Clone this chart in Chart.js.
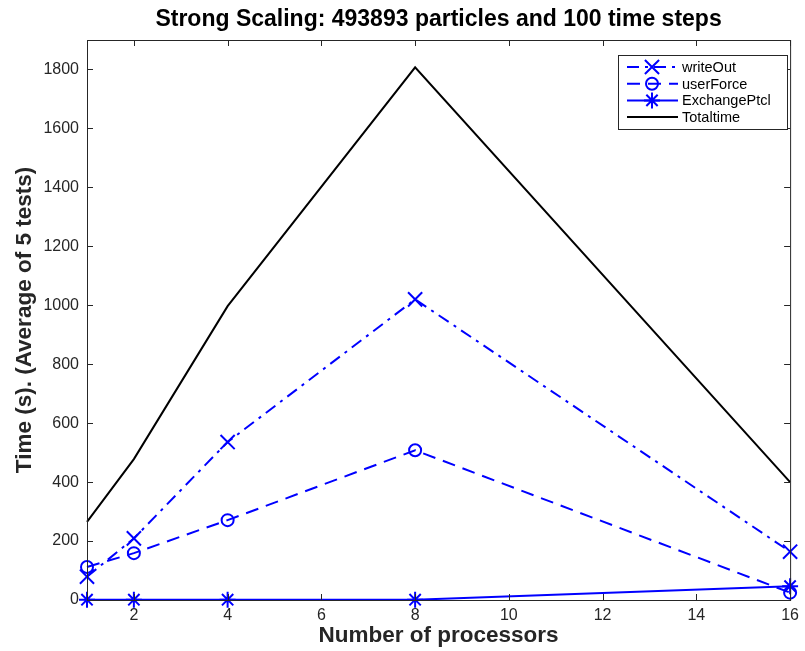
<!DOCTYPE html>
<html>
<head>
<meta charset="utf-8">
<script src="https://cdn.jsdelivr.net/npm/chart.js@4.4.1/dist/chart.umd.min.js"></script>
<style>
  body { margin: 0; background: #fff; }
  #wrap { width: 805px; height: 651px; }
</style>
</head>
<body>
<div id="wrap"><canvas id="scalingChart" width="805" height="651"></canvas></div>
<script>
// values
var procs = [1, 2, 4, 8, 16];
var writeOut = [79, 209, 536, 1020, 164];
var userForce = [112, 159, 271, 508, 25];
var exchangePtcl = [1, 1, 1, 1, 47];
var totalTime = [265, 478, 997, 1807, 400];

var xTicks = [2, 4, 6, 8, 10, 12, 14, 16];
var yTicks = [0, 200, 400, 600, 800, 1000, 1200, 1400, 1600, 1800];

var titleText = 'Strong Scaling: 493893 particles and 100 time steps';
var axisColor = '#262626';
var fontName = '"Liberation Sans", Arial, sans-serif';

function toPoints(ys) {
    return procs.map(function (p, i) { return { x: p, y: ys[i] }; });
}

// MATLAB style box, inward ticks, title and legend
var matlabBox = {
    id: 'matlabBox',
    afterDraw: function (chart) {
        var ctx = chart.ctx;
        var a = chart.chartArea;
        var xs = chart.scales.x, ys = chart.scales.y;
        var tl = 6;
        ctx.save();
        ctx.strokeStyle = axisColor;
        ctx.lineWidth = 1;
        ctx.strokeRect(a.left + 0.5, a.top + 0.5, a.right - a.left, a.bottom - a.top);
        ctx.beginPath();
        xTicks.forEach(function (v) {
            var px = Math.round(xs.getPixelForValue(v)) + 0.5;
            ctx.moveTo(px, a.bottom); ctx.lineTo(px, a.bottom - tl);
            ctx.moveTo(px, a.top); ctx.lineTo(px, a.top + tl);
        });
        yTicks.forEach(function (v) {
            var py = Math.round(ys.getPixelForValue(v)) + 0.5;
            ctx.moveTo(a.left, py); ctx.lineTo(a.left + tl, py);
            ctx.moveTo(a.right, py); ctx.lineTo(a.right - tl, py);
        });
        ctx.stroke();

        // title
        ctx.fillStyle = '#000';
        ctx.font = 'bold 23px ' + fontName;
        ctx.textAlign = 'center';
        ctx.textBaseline = 'middle';
        ctx.fillText(titleText, (a.left + a.right) / 2, 20);

        // legend
        var lx = 618, ly = 55, lw = 169, lh = 74;
        ctx.fillStyle = '#fff';
        ctx.fillRect(lx, ly, lw, lh);
        ctx.strokeStyle = axisColor;
        ctx.lineWidth = 1;
        ctx.strokeRect(lx + 0.5, ly + 0.5, lw, lh);
        ctx.font = '14.5px ' + fontName;
        ctx.textAlign = 'left';
        chart.data.datasets.forEach(function (ds, i) {
            var y = ly + 12 + i * 16.7;
            ctx.strokeStyle = ds.borderColor;
            ctx.lineWidth = ds.borderWidth;
            ctx.setLineDash(ds.borderDash || []);
            ctx.beginPath();
            ctx.moveTo(lx + 9, y); ctx.lineTo(lx + 60, y);
            ctx.stroke();
            ctx.setLineDash([]);
            if (ds.pointStyle && ds.pointRadius > 0) {
                ctx.fillStyle = 'rgba(0,0,0,0)';
                ctx.lineWidth = ds.pointBorderWidth;
                Chart.helpers.drawPoint(ctx, {
                    pointStyle: ds.pointStyle,
                    radius: ds.pointRadius,
                    borderWidth: ds.pointBorderWidth,
                    rotation: 0
                }, lx + 34, y);
            }
            ctx.fillStyle = '#000';
            ctx.fillText(ds.label, lx + 64, y + 1);
        });
        ctx.restore();
    }
};

var commonBlue = {
    borderColor: '#0000ff',
    pointBorderColor: '#0000ff',
    pointBackgroundColor: 'rgba(0,0,0,0)',
    borderWidth: 2,
    pointBorderWidth: 2,
    fill: false,
    tension: 0
};

function plainTick(v) { return String(v); }

var chart = new Chart(document.getElementById('scalingChart').getContext('2d'), {
    type: 'line',
    data: {
        datasets: [
            Object.assign({}, commonBlue, {
                label: 'writeOut', data: toPoints(writeOut),
                borderDash: [12, 6, 3, 6], pointStyle: 'crossRot', pointRadius: 10
            }),
            Object.assign({}, commonBlue, {
                label: 'userForce', data: toPoints(userForce),
                borderDash: [13, 8], pointStyle: 'circle', pointRadius: 6
            }),
            Object.assign({}, commonBlue, {
                label: 'ExchangePtcl', data: toPoints(exchangePtcl),
                pointStyle: 'star', pointRadius: 8
            }),
            {
                label: 'Totaltime', data: toPoints(totalTime),
                borderColor: '#000', borderWidth: 2, pointRadius: 0,
                fill: false, tension: 0
            }
        ]
    },
    options: {
        responsive: false,
        animation: false,
        clip: false,
        layout: { padding: { top: 40, right: 10, left: 0, bottom: 0 } },
        plugins: {
            legend: { display: false },
            title: { display: false },
            tooltip: { enabled: false }
        },
        scales: {
            x: {
                type: 'linear', min: 1, max: 16,
                afterBuildTicks: function (s) { s.ticks = xTicks.map(function (v) { return { value: v }; }); },
                afterFit: function (s) { s.height = 51; },
                grid: { display: false, drawTicks: false },
                border: { display: false },
                ticks: { color: axisColor, font: { family: fontName, size: 16 }, padding: 6, maxRotation: 0, callback: plainTick },
                title: { display: true, text: 'Number of processors', color: axisColor,
                         font: { family: fontName, size: 22.5, weight: 'bold' }, padding: { top: 0, bottom: 2 } }
            },
            y: {
                type: 'linear', min: 0, max: 1900,
                afterBuildTicks: function (s) { s.ticks = yTicks.map(function (v) { return { value: v }; }); },
                afterFit: function (s) { s.width = 87; },
                grid: { display: false, drawTicks: false },
                border: { display: false },
                ticks: { color: axisColor, font: { family: fontName, size: 16 }, padding: 8, callback: plainTick },
                title: { display: true, text: 'Time (s). (Average of 5 tests)', color: axisColor,
                         font: { family: fontName, size: 22.5, weight: 'bold' }, padding: { top: 11, bottom: 0 } }
            }
        }
    },
    plugins: [matlabBox]
});
</script>
</body>
</html>
